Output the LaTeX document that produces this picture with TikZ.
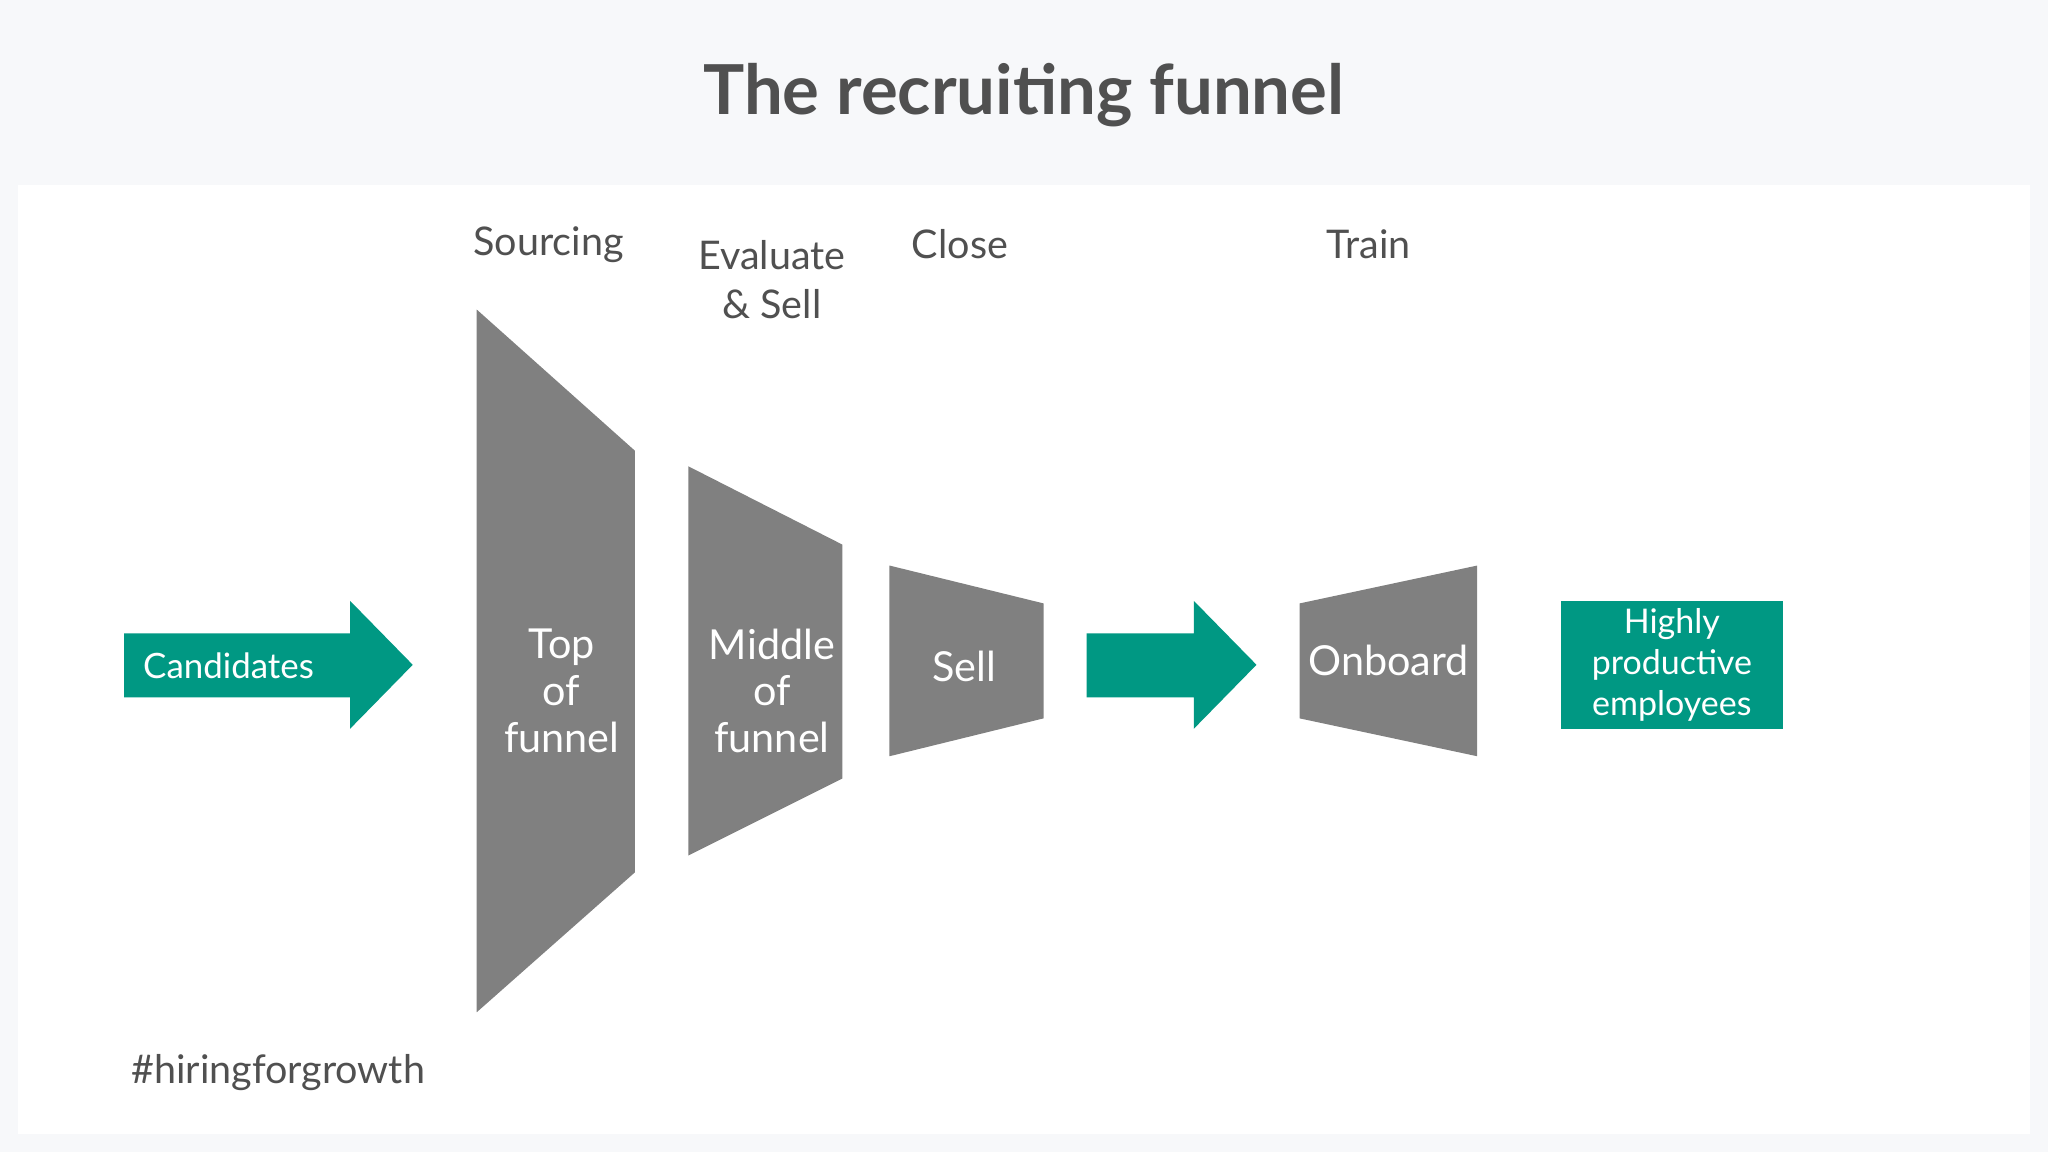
\documentclass[tikz,border=0pt]{standalone}
\usepackage{fontspec}
\setmainfont{Lato}
\definecolor{bg}{HTML}{F7F8FA}
\definecolor{fun}{HTML}{808080}
\definecolor{teal}{HTML}{009883}
\definecolor{txt}{HTML}{505050}
\begin{document}
\begin{tikzpicture}[x=0.01cm,y=-0.01cm,
  lab/.style={text=txt,font=\fontsize{8.6}{10.5}\selectfont,align=center},
  ftxt/.style={text=white,font=\fontsize{9}{10.2}\selectfont,align=center},
  funshape/.style={fill=fun,draw=none},
  arr/.style={fill=teal,draw=none}]
\fill[bg] (0,0) rectangle (1568,882);
\fill[white] (14,142) rectangle (1554,868);
\node[font=\fontsize{15}{18}\selectfont\bfseries,text=txt] (title) at (784,73) {The recruiting funnel};
\node[lab] (src) at (420,187) {Sourcing};
\node[lab,anchor=north] (eval) at (591,172) {Evaluate\\ \& Sell};
\node[lab] (close) at (735,187) {Close};
\node[lab] (train) at (1048,187) {Train};
\fill[funshape] (365,237) -- (486,345) -- (486,668) -- (365,775) -- cycle;
\fill[funshape] (527,357) -- (645,417) -- (645,596) -- (527,655) -- cycle;
\fill[funshape] (681,433) -- (799,462) -- (799,550) -- (681,579) -- cycle;
\fill[funshape] (995,462) -- (1131,433) -- (1131,579) -- (995,550) -- cycle;
\node[ftxt] (top) at (430,529) {Top\\ of\\ funnel};
\node[ftxt] (mid) at (591,529) {Middle\\ of\\ funnel};
\node[ftxt] (sell) at (738,510) {Sell};
\node[ftxt] (onb) at (1063,506) {Onboard};
\fill[arr] (95,485) -- (268,485) -- (268,460) -- (316,509) -- (268,558) -- (268,534) -- (95,534) -- cycle;
\node[text=white,font=\fontsize{7.6}{9}\selectfont] (cand) at (175,510) {Candidates};
\fill[arr] (832,485) -- (914,485) -- (914,460) -- (962,509) -- (914,558) -- (914,534) -- (832,534) -- cycle;
\fill[arr] (1195,460) rectangle (1365,558);
\node[text=white,font=\fontsize{7.4}{8.9}\selectfont,align=center] (hp) at (1280,509) {Highly\\ productive\\ employees};
\node[lab] (tag) at (213,821) {\#hiringforgrowth};
\end{tikzpicture}
\end{document}
